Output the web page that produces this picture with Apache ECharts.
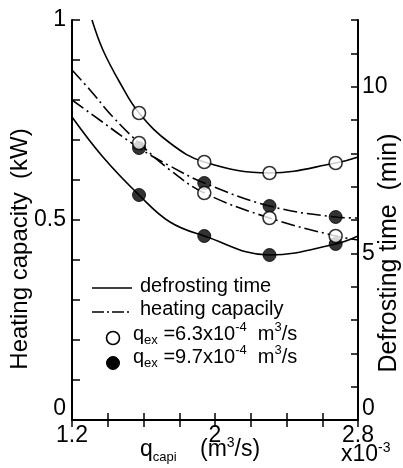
<!DOCTYPE html>
<html><head><meta charset="utf-8">
<script src="https://cdn.jsdelivr.net/npm/echarts@6/dist/echarts.min.js"></script>
<style>html,body{margin:0;padding:0;background:#fff}#c{width:403px;height:468px}</style>
</head><body><div id="c"></div>
<script>
// ---- data ----
const xPoints = [1.575, 1.94, 2.305, 2.675];            // q_capi (x10^-3 m3/s)
const defrostOpen = [9.21, 7.74, 7.41, 7.71];            // min, q_ex = 6.3e-4
const defrostFilled = [6.75, 5.52, 4.95, 5.28];          // min, q_ex = 9.7e-4
const heatOpen = [0.6925, 0.5675, 0.505, 0.46];          // kW, q_ex = 6.3e-4
const heatFilled = [0.68, 0.5925, 0.535, 0.5075];        // kW, q_ex = 9.7e-4

// fitted curves as drawn in the figure
const defrostOpenCurveX = [1.312, 1.373, 1.469, 1.575, 1.748, 1.94, 2.305, 2.675, 2.8];
const defrostOpenCurveY = [12.0, 11.1, 10.11, 9.21, 8.31, 7.74, 7.41, 7.71, 7.89];
const defrostFilledCurveX = [1.2, 1.373, 1.575, 1.748, 1.94, 2.305, 2.675, 2.8];
const defrostFilledCurveY = [9.09, 7.89, 6.75, 5.94, 5.52, 4.95, 5.28, 5.52];
const heatOpenCurveX = [1.2, 1.301, 1.429, 1.575, 1.748, 1.94, 2.305, 2.675, 2.8];
const heatOpenCurveY = [0.875, 0.825, 0.7575, 0.6925, 0.625, 0.5675, 0.505, 0.46, 0.45];
const heatFilledCurveX = [1.2, 1.301, 1.575, 1.748, 1.94, 2.305, 2.675, 2.8];
const heatFilledCurveY = [0.8, 0.7675, 0.68, 0.635, 0.5925, 0.535, 0.5075, 0.505];

// tick labels
const xTickValues = [1.2, 2.0, 2.8];
const xTickLabels = ['1.2', '2', '2.8'];
const leftTickValues = [0, 0.5, 1];
const leftTickLabels = ['0', '0.5', '1'];
const rightTickValues = [0, 5, 10];
const rightTickLabels = ['0', '5', '10'];

// ---- chart ----
const FF = "'Liberation Sans', Arial, Helvetica, sans-serif";
const zip = (xs, ys) => xs.map((x, i) => [x, ys[i]]);
const near = (a, b) => Math.abs(a - b) < 1e-6;
function fmt(vals, labs, raiseZero) {
  return function (v) {
    for (let i = 0; i < vals.length; i++) {
      if (near(v, vals[i])) return (raiseZero && near(v, 0)) ? '{z|' + labs[i] + '}' : labs[i];
    }
    return '';
  };
}
const zRich = { z: { fontSize: 23, fontFamily: FF, color: '#000', padding: [0, 0, 22, 0] } };
const axisLineStyle = { color: '#000', width: 2 };
const tickStyle = { color: '#000', width: 1.5 };

const chart = echarts.init(document.getElementById('c'), null, { renderer: 'canvas' });

const dashDot = [14, 4, 2, 4];
const openStyle = { color: '#fff', borderColor: '#000', borderWidth: 1.6 };
const filledStyle = { color: '#000', borderColor: '#000', borderWidth: 1 };

const option = {
  animation: false,
  backgroundColor: '#fff',
  grid: { left: 72, right: 45, top: 20, bottom: 48, containLabel: false },
  xAxis: [
    {
      type: 'value', position: 'bottom', min: 1.2, max: 2.8, interval: 0.2,
      axisLine: { show: true, lineStyle: axisLineStyle },
      axisTick: { show: true, inside: true, length: 7, lineStyle: tickStyle },
      splitLine: { show: false },
      axisLabel: { formatter: fmt(xTickValues, xTickLabels, false), fontSize: 23, fontFamily: FF, color: '#000', margin: 4 }
    },
    {
      type: 'value', position: 'top', min: 1.2, max: 2.8, interval: 0.2,
      axisLine: { show: true, lineStyle: axisLineStyle },
      axisTick: { show: true, inside: true, length: 7, lineStyle: tickStyle },
      splitLine: { show: false },
      axisLabel: { show: false }
    }
  ],
  yAxis: [
    {
      type: 'value', position: 'left', min: 0, max: 1, interval: 0.1,
      axisLine: { show: true, lineStyle: axisLineStyle },
      axisTick: { show: true, inside: true, length: 8, lineStyle: tickStyle },
      splitLine: { show: false },
      axisLabel: { formatter: fmt(leftTickValues, leftTickLabels, true), rich: zRich, fontSize: 23, fontFamily: FF, color: '#000', margin: 6 }
    },
    {
      type: 'value', position: 'right', min: 0, max: 12, interval: 1,
      axisLine: { show: true, lineStyle: axisLineStyle },
      axisTick: { show: true, inside: true, length: 7, lineStyle: tickStyle },
      splitLine: { show: false },
      axisLabel: { formatter: fmt(rightTickValues, rightTickLabels, true), rich: zRich, fontSize: 23, fontFamily: FF, color: '#000', margin: 4 }
    }
  ],
  series: [
    { type: 'line', name: 'defrosting time', yAxisIndex: 1, smooth: 0.4, symbol: 'none', data: zip(defrostOpenCurveX, defrostOpenCurveY), lineStyle: { color: '#000', width: 1.6 }, z: 2 },
    { type: 'line', name: 'defrosting time', yAxisIndex: 1, smooth: 0.4, symbol: 'none', data: zip(defrostFilledCurveX, defrostFilledCurveY), lineStyle: { color: '#000', width: 1.6 }, z: 2 },
    { type: 'line', name: 'heating capacily', yAxisIndex: 0, smooth: 0.4, symbol: 'none', data: zip(heatOpenCurveX, heatOpenCurveY), lineStyle: { color: '#000', width: 1.6, type: dashDot }, z: 2 },
    { type: 'line', name: 'heating capacily', yAxisIndex: 0, smooth: 0.4, symbol: 'none', data: zip(heatFilledCurveX, heatFilledCurveY), lineStyle: { color: '#000', width: 1.6, type: dashDot }, z: 2 },
    { type: 'scatter', name: 'q_ex=9.7', yAxisIndex: 1, symbol: 'circle', symbolSize: 13, data: zip(xPoints, defrostFilled), itemStyle: filledStyle, z: 3 },
    { type: 'scatter', name: 'q_ex=9.7', yAxisIndex: 0, symbol: 'circle', symbolSize: 13, data: zip(xPoints, heatFilled), itemStyle: filledStyle, z: 3 },
    { type: 'scatter', name: 'q_ex=6.3', yAxisIndex: 1, symbol: 'circle', symbolSize: 13, data: zip(xPoints, defrostOpen), itemStyle: openStyle, z: 4 },
    { type: 'scatter', name: 'q_ex=6.3', yAxisIndex: 0, symbol: 'circle', symbolSize: 13, data: zip(xPoints, heatOpen), itemStyle: openStyle, z: 4 }
  ],
  graphic: (function () {
    const m = { fontSize: 20, fontFamily: FF, fill: '#000', lineHeight: 26 };
    const sub = { fontSize: 13, fontFamily: FF, fill: '#000', lineHeight: 13, verticalAlign: 'bottom' };
    const sup = { fontSize: 13, fontFamily: FF, fill: '#000', lineHeight: 12, verticalAlign: 'top' };
    const M = { fontSize: 23, fontFamily: FF, fill: '#000', lineHeight: 28 };
    const SUB = { fontSize: 13, fontFamily: FF, fill: '#000', lineHeight: 13, verticalAlign: 'bottom' };
    const SUP = { fontSize: 14, fontFamily: FF, fill: '#000', lineHeight: 13, verticalAlign: 'top' };
    return [
      // axis titles
      { type: 'text', x: 20, y: 249, rotation: Math.PI / 2, z: 10,
        style: { text: 'Heating capacity  (kW)', fontSize: 24, fontFamily: FF, fill: '#000', align: 'center', verticalAlign: 'middle' } },
      { type: 'text', x: 389, y: 253, rotation: Math.PI / 2, z: 10,
        style: { text: 'Defrosting time  (min)', fontSize: 25, fontFamily: FF, fill: '#000', align: 'center', verticalAlign: 'middle' } },
      { type: 'text', x: 140, y: 450, z: 10,
        style: { text: '{m|q}{s|capi}', rich: { m: M, s: SUB }, align: 'left', verticalAlign: 'middle' } },
      { type: 'text', x: 200, y: 450, z: 10,
        style: { text: '{m|(m}{p|3}{m|/s)}', rich: { m: M, p: SUP }, align: 'left', verticalAlign: 'middle' } },
      { type: 'text', x: 341, y: 455, z: 10,
        style: { text: '{m|x10}{p|-3}', rich: { m: M, p: SUP }, align: 'left', verticalAlign: 'middle' } },
      // legend
      { type: 'line', z: 10, shape: { x1: 92, y1: 288, x2: 132, y2: 288 }, style: { stroke: '#000', lineWidth: 1.6 } },
      { type: 'text', x: 140, y: 286, z: 10, style: { text: 'defrosting time', fontSize: 20, fontFamily: FF, fill: '#000', align: 'left', verticalAlign: 'middle' } },
      { type: 'line', z: 10, shape: { x1: 92, y1: 312, x2: 132, y2: 312 }, style: { stroke: '#000', lineWidth: 1.6, lineDash: [12, 3, 2, 3] } },
      { type: 'text', x: 140, y: 309, z: 10, style: { text: 'heating capacily', fontSize: 20, fontFamily: FF, fill: '#000', align: 'left', verticalAlign: 'middle' } },
      { type: 'circle', z: 10, shape: { cx: 113, cy: 338, r: 6.5 }, style: { fill: '#fff', stroke: '#000', lineWidth: 1.6 } },
      { type: 'text', x: 133, y: 334, z: 10,
        style: { text: '{m|q}{s|ex}{m| =6.3x10}{p|-4}{m|  m}{p|3}{m|/s}', rich: { m: m, s: sub, p: sup }, align: 'left', verticalAlign: 'middle' } },
      { type: 'circle', z: 10, shape: { cx: 113, cy: 363, r: 6.5 }, style: { fill: '#000', stroke: '#000', lineWidth: 1 } },
      { type: 'text', x: 133, y: 357, z: 10,
        style: { text: '{m|q}{s|ex}{m| =9.7x10}{p|-4}{m|  m}{p|3}{m|/s}', rich: { m: m, s: sub, p: sup }, align: 'left', verticalAlign: 'middle' } }
    ];
  })()
};
chart.setOption(option);
</script></body></html>
